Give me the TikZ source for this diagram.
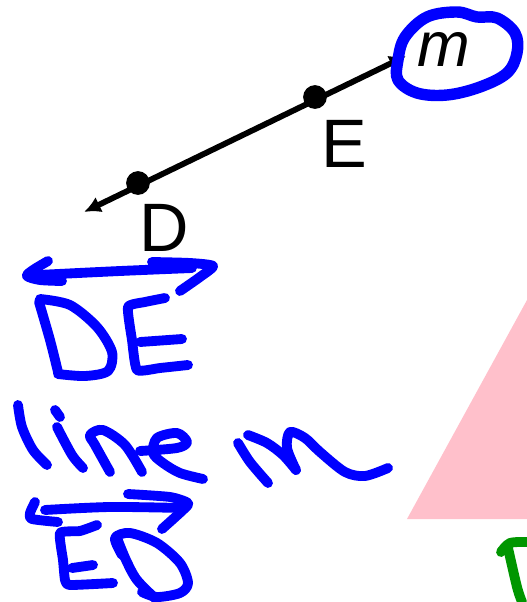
\documentclass[tikz,border=0pt]{standalone}
\usepackage{fontspec}
\setmainfont{Liberation Sans}
\usetikzlibrary{arrows.meta}
\definecolor{ink}{RGB}{0,0,255}
\definecolor{inkgreen}{RGB}{0,150,0}
\definecolor{trigpink}{RGB}{255,192,203}
\tikzset{
  pen/.style={ink,line width=5.6pt,line cap=round,line join=round},
  ptlabel/.style={font=\fontsize{39}{40}\selectfont,inner sep=0pt},
  dot/.style={circle,fill=black,inner sep=0pt,minimum size=13.5pt},
  tip/.style={Latex[length=9.5pt,width=9.5pt]}
}
\begin{document}
\begin{tikzpicture}[x=0.02cm,y=-0.02cm]
  \useasboundingbox (0,0) rectangle (527,602);
  % triangle cut by the right edge
  \fill[trigpink] (407,519) -- (527,300) -- (527,519) -- cycle;
  % line m
  \coordinate (endL) at (84,212);
  \coordinate (endR) at (406,56);
  \draw[line width=3.3pt,{Latex[length=9.5pt,width=9.5pt]}-{Latex[length=9.5pt,width=9.5pt]}] (endL) -- (endR);
  \node[dot] (D) at (138,183) {};
  \node[dot] (E) at (315,97) {};
  \node[ptlabel] (labD) at (164,228) {D};
  \node[ptlabel] (labE) at (344,144) {E};
  \node[font=\fontsize{36}{38}\selectfont\itshape,inner sep=0pt] (labm) at (444,49) {m};
  % ring round m
  \draw[pen,line width=6.5pt] plot[smooth cycle,tension=0.6] coordinates {(405,37) (427,17) (457,12) (477,17) (497,18) (515,33) (517,53) (507,73) (480,87) (447,95) (417,93) (398,80) (398,60)};
  % DE with arrows
  \draw[pen] plot[smooth] coordinates {(48,261) (33,270) (27,276) (40,280) (62,281)};
  \draw[pen] plot[smooth] coordinates {(38,275) (120,271) (192,268)};
  \draw[pen] plot[smooth,tension=0.4] coordinates {(152,262) (190,263) (213,266) (200,277) (180,291)};
  \draw[pen] plot[smooth] coordinates {(39,302) (50,340) (58,372)};
  \draw[pen] plot[smooth] coordinates {(40,299) (70,305) (97,327) (112,352) (108,371) (85,376) (58,374)};
  \draw[pen] plot[smooth,tension=0.3] coordinates {(165,298) (145,302) (128,307) (132,340) (137,370) (160,368) (188,365)};
  \draw[pen] (140,342) -- (182,339);
  % line m
  \draw[pen] plot[smooth] coordinates {(18,405) (22,427) (33,450) (47,465)};
  \draw[pen] (55,410) -- (60,417);
  \draw[pen] plot[smooth] coordinates {(57,427) (72,455) (83,468)};
  \draw[pen] plot[smooth] coordinates {(110,472) (95,445) (90,435) (103,430) (125,445) (142,472)};
  \draw[pen] plot[smooth] coordinates {(140,451) (177,448) (187,442) (177,433) (157,438) (153,453) (163,463) (180,473) (203,479)};
  \draw[pen] plot[smooth] coordinates {(238,443) (250,462) (268,483)};
  \draw[pen] plot[smooth] coordinates {(248,435) (267,443) (283,455) (296,470)};
  \draw[pen] plot[smooth] coordinates {(296,470) (287,448) (290,432) (305,438) (320,452) (345,472) (365,476) (388,468)};
  % ED with arrows
  \draw[pen] plot[smooth,tension=0.4] coordinates {(128,494) (170,497) (188,503) (183,510) (162,529)};
  \draw[pen] plot[smooth] coordinates {(45,510) (110,507) (182,508)};
  \draw[pen] plot[smooth,tension=0.4] coordinates {(35,502) (30,513) (32,519) (58,522)};
  \draw[pen] plot[smooth,tension=0.3] coordinates {(97,525) (80,531) (60,533) (63,560) (65,580) (70,585) (113,583)};
  \draw[pen] (72,568) -- (93,565);
  \draw[pen] plot[smooth] coordinates {(117,538) (126,560) (137,580) (157,600)};
  \draw[pen] plot[smooth] coordinates {(122,555) (115,538) (130,533) (157,543) (180,563) (188,583) (180,593) (157,597) (142,592)};
  % green mark at the bottom edge
  \draw[pen,inkgreen] plot[smooth] coordinates {(501,552) (510,543) (527,542)};
  \draw[pen,inkgreen] plot[smooth] coordinates {(508,548) (517,587) (522,602)};
\end{tikzpicture}
\end{document}
